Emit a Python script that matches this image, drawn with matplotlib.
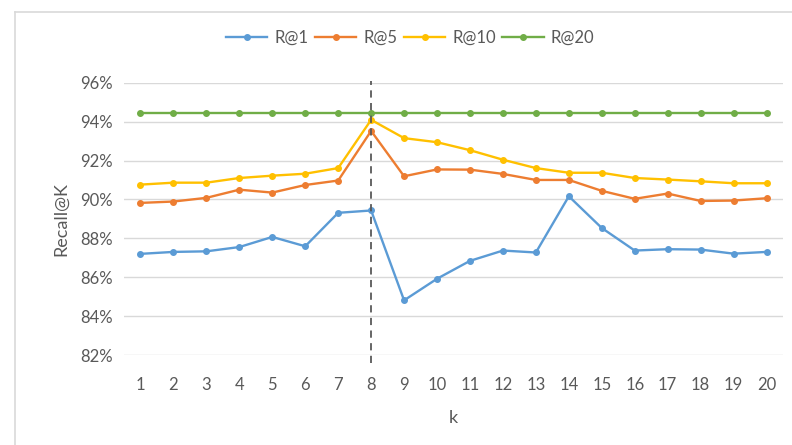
import numpy as np
import matplotlib.pyplot as plt
from matplotlib.lines import Line2D
from matplotlib.ticker import FuncFormatter

plt.rcParams['font.family'] = ['Lato', 'DejaVu Sans']

k = np.arange(1, 21)

r_at_1 = [87.20, 87.30, 87.33, 87.55, 88.07, 87.59, 89.31, 89.43, 84.81, 85.92,
          86.84, 87.37, 87.27, 90.16, 88.53, 87.37, 87.44, 87.42, 87.21, 87.30]
r_at_5 = [89.82, 89.89, 90.08, 90.50, 90.35, 90.74, 90.97, 93.52, 91.19, 91.54,
          91.53, 91.31, 91.00, 91.00, 90.44, 90.03, 90.30, 89.92, 89.94, 90.06]
r_at_10 = [90.76, 90.86, 90.86, 91.10, 91.22, 91.32, 91.61, 94.09, 93.15, 92.94,
           92.53, 92.04, 91.61, 91.37, 91.37, 91.10, 91.02, 90.93, 90.83, 90.83]
r_at_20 = [94.45] * 20

series = [('R@1', r_at_1, '#5B9BD5'),
          ('R@5', r_at_5, '#ED7D31'),
          ('R@10', r_at_10, '#FFC000'),
          ('R@20', r_at_20, '#70AD47')]

best_k = 8
text_color = '#595959'

fig = plt.figure(figsize=(7.92, 4.45), dpi=100)
W, H = 792, 445
ax = fig.add_axes([124 / W, 1 - 355 / H, (783 - 124) / W, (355 - 82.7) / H])

for name, vals, color in series:
    ax.plot(k, vals, color=color, lw=1.7, marker='o', ms=4, label=name, zorder=3)

# vertical marker at the chosen k
ax.plot([best_k, best_k], [81.6, 96.1], color='#595959', lw=1.3,
        ls=(0, (4, 3)), clip_on=False, zorder=4)

ax.set_xlim(0.5, 20.5)
ax.set_ylim(82, 96)
ax.set_xticks(k)
ax.set_yticks(np.arange(82, 97, 2))
ax.yaxis.set_major_formatter(FuncFormatter(lambda v, p: f'{v:.0f}%'))
ax.grid(axis='y', color='#D9D9D9', lw=1)
ax.set_axisbelow(True)
for s in ax.spines.values():
    s.set_visible(False)
ax.tick_params(length=0, labelsize=12, colors=text_color)
ax.tick_params(axis='x', pad=16)
ax.tick_params(axis='y', pad=8)

ax.set_xlabel('k', fontsize=13, color=text_color, labelpad=12)
ax.set_ylabel('Recall@K', fontsize=13, color=text_color, labelpad=8)

ax.legend(loc='center', bbox_to_anchor=(410 / W, 1 - 38 / H),
          bbox_transform=fig.transFigure, ncol=4, frameon=False,
          fontsize=12, labelcolor=text_color, handlelength=2.5,
          columnspacing=0.4, handletextpad=0.4)

# chart frame (only the top and left edges fall inside the image)
fig.add_artist(Line2D([15 / W, 15 / W], [0, 1 - 12 / H], color='#D9D9D9', lw=1.2))
fig.add_artist(Line2D([15 / W, 1], [1 - 12 / H, 1 - 12 / H], color='#D9D9D9', lw=1.2))

fig.savefig('out.png', dpi=100)
